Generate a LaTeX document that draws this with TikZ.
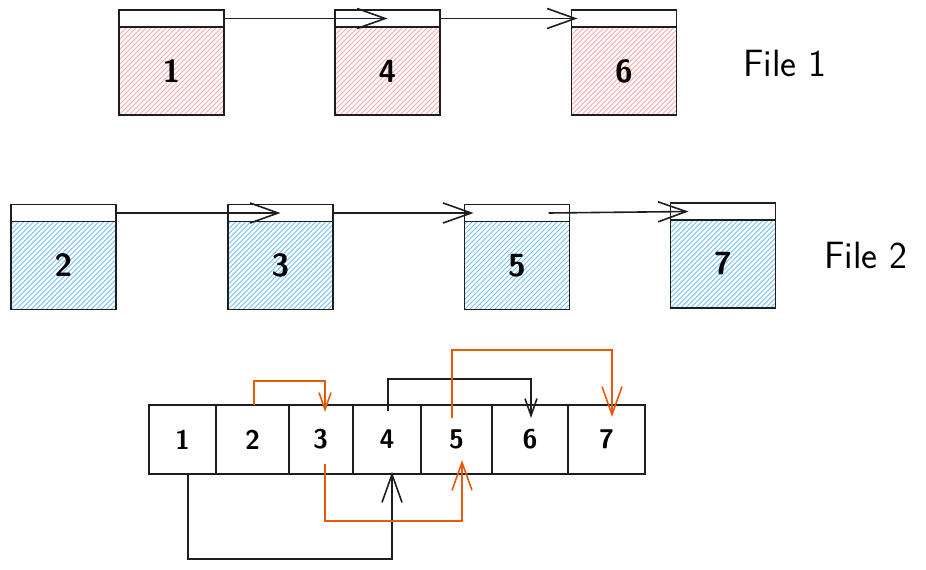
\documentclass[tikz,border=0pt]{standalone}
\usetikzlibrary{positioning,arrows.meta}
\renewcommand{\familydefault}{\sfdefault}
\definecolor{ink}{HTML}{1E1E1E}
\definecolor{hatchred}{HTML}{FFA8A8}
\definecolor{hatchblue}{HTML}{74C0FC}
\definecolor{linkorange}{HTML}{E8590C}

\begin{document}
\begin{tikzpicture}[x=1pt,y=-1pt,
    hatch/.style={path picture={
      \foreach \d in {-100,-95,...,110}
        \draw[#1, line width=1pt] ([xshift=\d pt]path picture bounding box.south west) -- ++(110pt,110pt);}},
    body/.style={draw=ink, line width=1.3pt, minimum width=105pt, minimum height=88pt,
      inner sep=0pt, outer sep=0pt, font=\fontsize{32}{34}\selectfont\bfseries},
    redbody/.style={body, hatch=hatchred},
    bluebody/.style={body, hatch=hatchblue},
    head/.style={draw=ink, line width=1.3pt, fill=white, minimum width=105pt, minimum height=17pt,
      inner sep=0pt, outer sep=0pt, above=0pt of #1},
    cell/.style={draw=ink, line width=1.3pt, minimum height=69pt, inner sep=0pt, outer sep=0pt,
      font=\fontsize{27}{29}\selectfont\bfseries},
    link/.style={draw=ink, line width=1.6pt, -{Straight Barb[length=28pt,width=20pt]}},
    small/.style={-{Straight Barb[length=17pt,width=12pt]}},
    pick/.style={draw=linkorange},
    label/.style={font=\fontsize{38}{40}\selectfont}]
  \useasboundingbox (0,0) rectangle (926,570);

  % File 1
  \node[redbody] (b1) at (171.5,71) {1};
  \node[redbody] (b4) at (387.5,71) {4};
  \node[redbody] (b6) at (624,71) {6};
  \foreach \n in {1,4,6}
    \node[head=b\n] (h\n) {};
  \draw[link] (h1.east) -- (h4.center);
  \draw[link] (h4.east) -- ([xshift=6pt]h6.west);
  \node[label] (f1) at (785,63) {File 1};

  % File 2
  \node[bluebody] (b2) at (63.5,265.5) {2};
  \node[bluebody] (b3) at (280.5,265.5) {3};
  \node[bluebody] (b5) at (517,265.5) {5};
  \node[bluebody] (b7) at (723,264) {7};
  \foreach \n in {2,3,5,7}
    \node[head=b\n] (h\n) {};
  \draw[link] (h2.east) -- (h3.center);
  \draw[link] (h3.east) -- ([xshift=9pt]h5.west);
  \draw[link] ([xshift=-21pt]h5.east) -- ([xshift=18pt]h7.west);
  \node[label] (f2) at (866,255) {File 2};

  % Merged array
  \foreach \n/\cx/\w in {1/182.5/67, 2/252.5/73, 3/320.5/64, 4/387/68, 5/456.5/71, 6/530/76, 7/606.5/77}
    \node[cell, minimum width=\w pt] (c\n) at (\cx,439.5) {\n};

  % Links above
  \draw[link, pick, small] ([xshift=1.5pt]c2.north) -- ++(0,-24) -| ([xshift=4.5pt,yshift=-7pt]c3.north);
  \draw[link, small] ([xshift=1pt,yshift=-6pt]c4.north) -- ++(0,-32) -| ([xshift=1pt,yshift=-13pt]c6.north);
  \draw[link, pick] ([xshift=-4.5pt,yshift=-13pt]c5.north) -- ++(0,-68) -| ([xshift=5.5pt,yshift=-12pt]c7.north);

  % Links below
  \draw[link] ([xshift=5.5pt]c1.south) -- ++(0,85) -| ([xshift=5pt,yshift=2pt]c4.south);
  \draw[link, pick] ([xshift=4.5pt,yshift=10pt]c3.south) -- ++(0,57) -| ([xshift=5.5pt,yshift=14pt]c5.south);
\end{tikzpicture}
\end{document}
